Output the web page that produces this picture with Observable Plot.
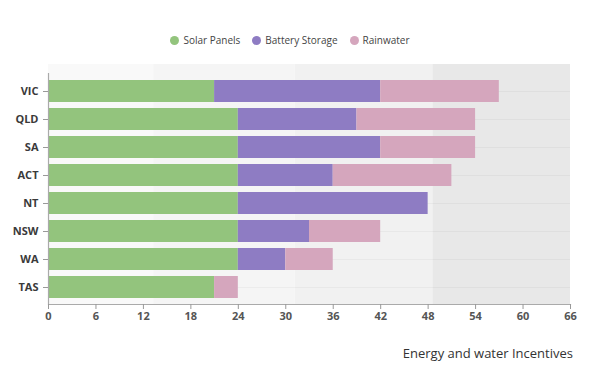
<!DOCTYPE html>
<html>
<head>
<meta charset="utf-8">
<script src="https://cdn.jsdelivr.net/npm/d3@7"></script>
<script src="https://cdn.jsdelivr.net/npm/@observablehq/plot@0.6"></script>
<style>
  html, body { margin: 0; padding: 0; background: #fff; }
  body { width: 600px; height: 382px; font-family: "Open Sans", sans-serif; position: relative; overflow: hidden; }
  #legend { height: 56px; display: flex; justify-content: center; align-items: flex-start; box-sizing: border-box; font-size: 10px; color: #444; }
  #legend .inner { margin-top: 33px; display: flex; gap: 12px; margin-left: -20px; }
  #legend .item { display: flex; align-items: center; }
  #legend .dot { width: 9px; height: 9px; border-radius: 50%; margin-right: 4px; }
  #title { position: absolute; right: 27px; top: 344px; font-size: 13px; color: #333; }
</style>
</head>
<body>
<div id="legend"><div class="inner"></div></div>
<div id="chart"></div>
<div id="title">Energy and water Incentives</div>
<script>
const states = ["VIC", "QLD", "SA", "ACT", "NT", "NSW", "WA", "TAS"];
const seriesNames = ["Solar Panels", "Battery Storage", "Rainwater"];
const solarPanels    = [21, 24, 24, 24, 24, 24, 24, 21];
const batteryStorage = [21, 15, 18, 12, 24,  9,  6,  0];
const rainwater      = [15, 15, 12, 15,  0,  9,  6,  3];
const seriesColors = ["#93c47d", "#8e7cc3", "#d5a6bd"];
const xTicks = [0, 6, 12, 18, 24, 30, 36, 42, 48, 54, 60, 66];
const bandEdges = [0, 13.3, 31.2, 48.6, 66];
const bandFills = ["#f9f9f9", "#f5f5f5", "#f1f1f1", "#e8e8e8"];

const seriesValues = [solarPanels, batteryStorage, rainwater];
const data = [];
states.forEach((s, i) => {
  seriesNames.forEach((name, j) => {
    data.push({state: s, series: name, value: seriesValues[j][i]});
  });
});
const bands = bandFills.map((f, i) => ({x1: bandEdges[i], x2: bandEdges[i + 1], fill: f}));

// legend
const inner = document.querySelector("#legend .inner");
seriesNames.forEach((n, i) => {
  const item = document.createElement("div");
  item.className = "item";
  const dot = document.createElement("span");
  dot.className = "dot";
  dot.style.background = seriesColors[i];
  const label = document.createElement("span");
  label.textContent = n;
  item.appendChild(dot);
  item.appendChild(label);
  inner.appendChild(item);
});

const chart = Plot.plot({
  width: 600,
  height: 280,
  marginTop: 8,
  marginBottom: 32,
  marginLeft: 48,
  marginRight: 30,
  style: {fontFamily: "Open Sans, sans-serif", background: "transparent"},
  x: {domain: [0, 66], ticks: xTicks, label: null},
  y: {domain: states, range: [17, 248.5], padding: 0.2, label: null},
  color: {domain: seriesNames, range: seriesColors},
  marks: [
    Plot.rectX(bands, {x1: "x1", x2: "x2", fill: d => d.fill}),
    Plot.gridY({stroke: "#000", strokeOpacity: 0.035}),
    Plot.barX(data, {x: "value", y: "state", fill: "series", order: seriesNames}),
    Plot.ruleX([0], {stroke: "#aaa", insetTop: 9, strokeWidth: 1.2}),
    Plot.frame({anchor: "bottom", stroke: "#aaa", strokeWidth: 1.2}),
    Plot.axisX({ticks: xTicks, tickSize: 5, stroke: "#999", fill: "#555", fontSize: 11, fontWeight: "bold", tickPadding: 3, label: null}),
    Plot.axisY({tickSize: 5, stroke: "#999", fill: "#3a3a3a", fontSize: 11, fontWeight: "bold", tickPadding: 5, label: null})
  ]
});
document.getElementById("chart").appendChild(chart);
</script>
</body>
</html>
